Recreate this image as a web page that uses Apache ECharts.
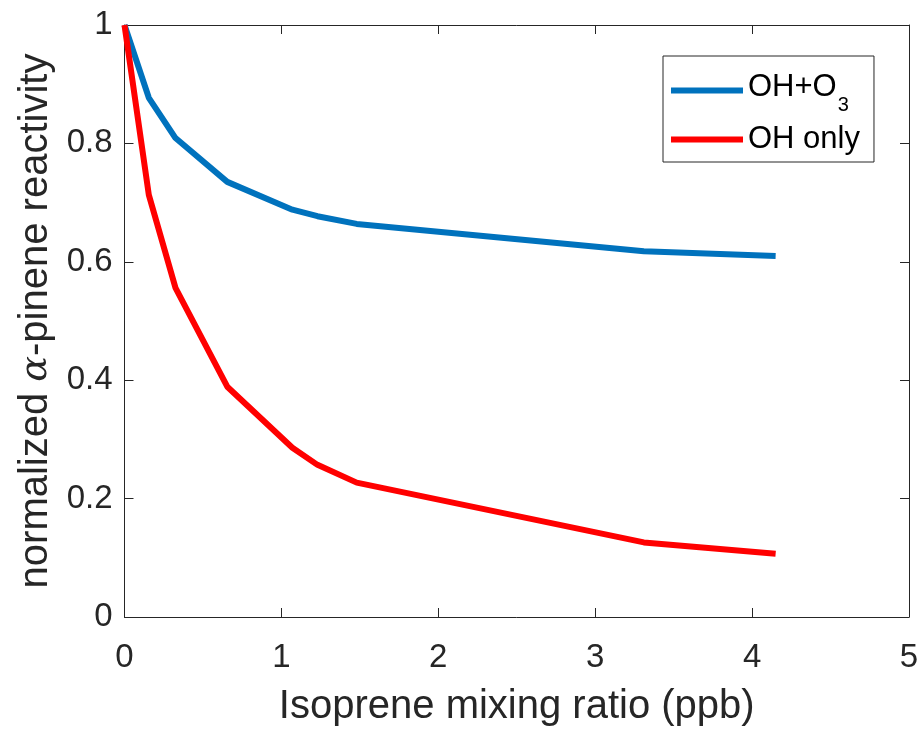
<!DOCTYPE html>
<html>
<head>
<meta charset="utf-8">
<script src="https://cdn.jsdelivr.net/npm/echarts@6/dist/echarts.min.js"></script>
<style>
  html, body { margin: 0; padding: 0; background: #fff; }
  #chart { width: 924px; height: 732px; }
</style>
</head>
<body>
<div id="chart"></div>
<script>
// isoprene mixing ratio (ppb)
const isoprene = [0, 0.155, 0.325, 0.655, 1.07, 1.23, 1.48, 3.31, 4.15];
// normalized alpha-pinene reactivity
const ohO3 = [1, 0.877, 0.809, 0.735, 0.688, 0.677, 0.664, 0.618, 0.610];
const ohOnly = [1, 0.713, 0.556, 0.389, 0.286, 0.257, 0.227, 0.126, 0.107];

const axisColor = '#262626';
const font = 'Liberation Sans, Arial, sans-serif';

const pairs = (xs, ys) => xs.map((x, i) => [x, ys[i]]);

const chart = echarts.init(document.getElementById('chart'));
chart.setOption({
  animation: false,
  backgroundColor: '#fff',
  grid: { left: 124.5, right: 15, top: 25, bottom: 114.5 },
  legend: {
    orient: 'vertical',
    left: 663,
    top: 56,
    padding: [15.5, 14, 7, 8],
    itemGap: 8.5,
    itemWidth: 72,
    itemHeight: 6,
    icon: 'rect',
    borderColor: axisColor,
    borderWidth: 1,
    backgroundColor: '#fff',
    data: ['OH+O3', 'OH only'],
    formatter: function (name) {
      return name === 'OH+O3' ? '{t|OH+O}{s|3}' : '{u|OH only}';
    },
    textStyle: {
      fontFamily: font,
      color: '#000',
      rich: {
        t: { fontSize: 31, fontFamily: font, color: '#000', lineHeight: 38, verticalAlign: 'top' },
        s: { fontSize: 20, fontFamily: font, color: '#000', lineHeight: 20, verticalAlign: 'top', padding: [24, 0, 0, 1] },
        u: { fontSize: 31, fontFamily: font, color: '#000', lineHeight: 38 }
      }
    }
  },
  xAxis: [{
    type: 'value',
    min: 0, max: 5, interval: 1,
    name: 'Isoprene mixing ratio (ppb)',
    nameLocation: 'middle',
    nameGap: 70,
    nameTextStyle: { fontFamily: font, fontSize: 40, color: axisColor },
    axisLine: { onZero: false, lineStyle: { color: axisColor, width: 1 } },
    axisTick: { inside: true, length: 9, lineStyle: { color: axisColor } },
    axisLabel: { fontFamily: font, fontSize: 33, color: axisColor, margin: 24 },
    splitLine: { show: false }
  }, {
    type: 'value', position: 'top',
    min: 0, max: 5, interval: 1,
    axisLine: { show: true, onZero: false, lineStyle: { color: axisColor, width: 1 } },
    axisTick: { inside: true, length: 9, lineStyle: { color: axisColor } },
    axisLabel: { show: false },
    splitLine: { show: false }
  }],
  yAxis: [{
    type: 'value',
    min: 0, max: 1, interval: 0.2,
    name: '{n|normalized }{a|α}{n|-pinene reactivity}',
    nameLocation: 'middle',
    nameGap: 64,
    nameRotate: 90,
    nameTextStyle: {
      rich: {
        n: { fontFamily: font, fontSize: 40, color: axisColor },
        a: { fontFamily: 'DejaVu Serif, serif', fontStyle: 'italic', fontSize: 38, color: axisColor }
      }
    },
    axisLine: { show: true, onZero: false, lineStyle: { color: axisColor, width: 1 } },
    axisTick: { inside: true, length: 9, lineStyle: { color: axisColor } },
    axisLabel: {
      fontFamily: font, fontSize: 33, color: axisColor, margin: 12,
      formatter: v => (v === 0 || v === 1) ? String(v) : v.toFixed(1)
    },
    splitLine: { show: false }
  }, {
    type: 'value', position: 'right',
    min: 0, max: 1, interval: 0.2,
    axisLine: { show: true, onZero: false, lineStyle: { color: axisColor, width: 1 } },
    axisTick: { inside: true, length: 9, lineStyle: { color: axisColor } },
    axisLabel: { show: false },
    splitLine: { show: false }
  }],
  series: [{
    name: 'OH+O3',
    type: 'line',
    data: pairs(isoprene, ohO3),
    symbol: 'none',
    lineStyle: { color: '#0072BD', width: 6 },
    itemStyle: { color: '#0072BD' },
    z: 3
  }, {
    name: 'OH only',
    type: 'line',
    data: pairs(isoprene, ohOnly),
    symbol: 'none',
    lineStyle: { color: '#FF0000', width: 6 },
    itemStyle: { color: '#FF0000' },
    z: 4
  }]
});
</script>
</body>
</html>
